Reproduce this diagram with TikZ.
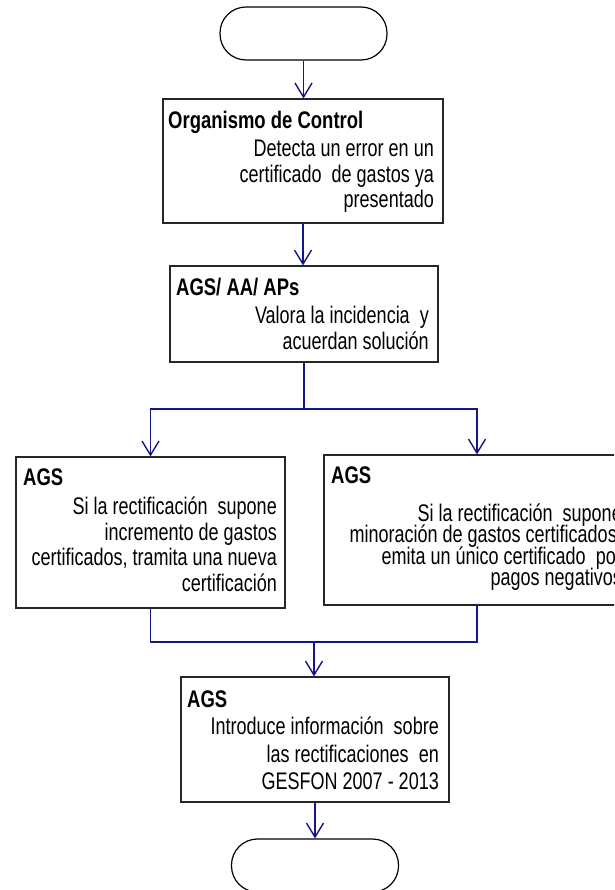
\documentclass[tikz,border=0pt]{standalone}
\usepackage{fontspec}
\setmainfont{Liberation Sans}
\newfontfamily\condensed{Liberation Sans}[FakeStretch=0.75]
\newfontfamily\condensedbold{Liberation Sans Bold}[FakeStretch=0.77]
\usetikzlibrary{arrows.meta}
\definecolor{flowblue}{RGB}{20,20,140}
\tikzset{
  terminal/.style={draw=black, line width=1.2pt, rounded corners=26pt,
    minimum width=167pt, minimum height=53pt, inner sep=0pt},
  stepbox/.style={draw=black!85, line width=1.2pt, inner sep=0pt},
  heading/.style={anchor=base west, inner sep=0pt,
    font=\condensedbold\fontsize{24}{26}\selectfont},
  bodyline/.style={anchor=base east, inner sep=0pt,
    font=\condensed\fontsize{24}{26}\selectfont},
  flow/.style={draw=flowblue, line width=1.4pt},
  flowarrow/.style={flow, -{Straight Barb[length=14pt, width=17pt, line width=1.4pt]}},
}
\begin{document}
\begin{tikzpicture}[x=1pt, y=-1pt]
\useasboundingbox (0,0) rectangle (614,890);
\clip (0,0) rectangle (614,890);

% start and end terminals
\node[terminal] (start) at (303.5,33.5) {};
\node[terminal] (finish) at (315,865.5) {};

% process boxes
\node[stepbox, minimum width=280pt, minimum height=124pt] (b1) at (303,161) {};
\node[stepbox, minimum width=268pt, minimum height=96pt] (b2) at (304,314) {};
\node[stepbox, minimum width=269pt, minimum height=151pt] (b3) at (150.5,532.5) {};
\node[stepbox, minimum width=306pt, minimum height=150pt] (b4) at (477,530) {};
\node[stepbox, minimum width=268pt, minimum height=125pt] (b5) at (315,739.5) {};

% box texts
\node[heading] (b1h) at (168,129) {Organismo de Control};
\node[bodyline] (b1a) at (434,157) {Detecta un error en un};
\node[bodyline] (b1b) at (434,183) {certificado\ \ de gastos ya};
\node[bodyline] (b1c) at (434,208) {presentado};

\node[heading] (b2h) at (176,295) {AGS/ AA/ APs};
\node[bodyline] (b2a) at (429,323) {Valora la incidencia\ \ y};
\node[bodyline] (b2b) at (429,349) {acuerdan solución};

\node[heading] (b3h) at (23,485) {AGS};
\node[bodyline] (b3a) at (277,514) {Si la rectificación\ \ supone};
\node[bodyline] (b3b) at (277,540) {incremento de gastos};
\node[bodyline] (b3c) at (277,565) {certificados, tramita una nueva};
\node[bodyline] (b3d) at (277,591) {certificación};

\node[heading] (b4h) at (331,483) {AGS};
\node[bodyline] (b4a) at (622,521) {Si la rectificación\ \ supone};
\node[bodyline] (b4b) at (622,542) {minoración de gastos certificados,};
\node[bodyline] (b4c) at (622,564) {emita un único certificado\ \ por};
\node[bodyline] (b4d) at (622,585) {pagos negativos};

\node[heading] (b5h) at (187,707) {AGS};
\node[bodyline] (b5a) at (439,734) {Introduce información\ \ sobre};
\node[bodyline] (b5b) at (439,762) {las rectificaciones\ \ en};
\node[bodyline] (b5c) at (439,789) {GESFON 2007 - 2013};

% connectors
\coordinate (split) at (304,409);
\coordinate (merge) at (314,642);

\draw[flowarrow] (start.south) -- (start.south |- b1.north);
\draw[flowarrow] (b1.south) -- (b1.south |- b2.north);
\draw[flow] (b2.south) -- (split);
\draw[flowarrow] (split) -| (b3.north);
\draw[flowarrow] (split) -| (b4.north);
\draw[flow] (b3.south) |- (merge);
\draw[flow] (b4.south) |- (merge);
\draw[flowarrow] (merge) -- (merge |- b5.north);
\draw[flowarrow] (b5.south) -- (b5.south |- finish.north);
\end{tikzpicture}
\end{document}
